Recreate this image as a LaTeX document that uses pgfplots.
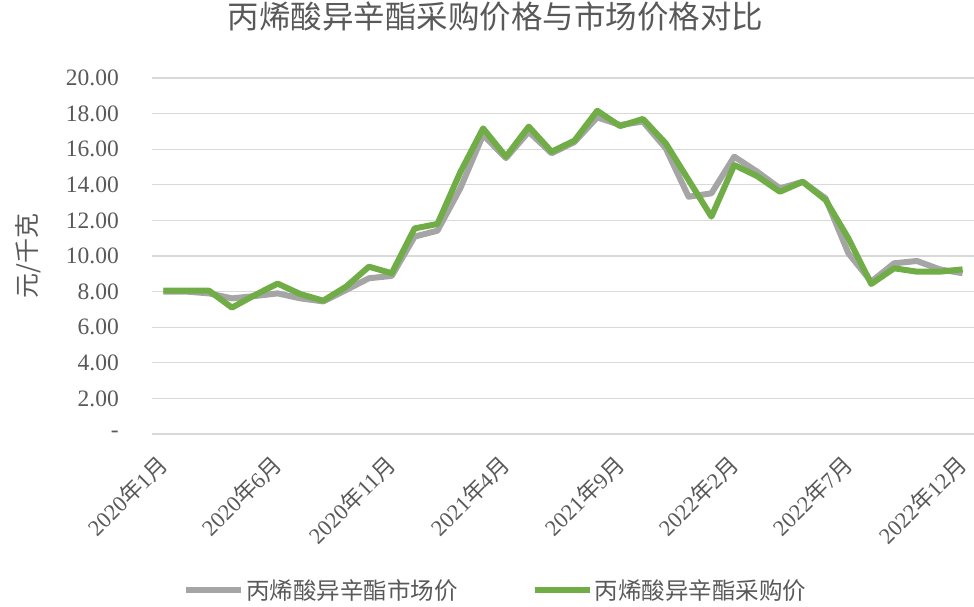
\documentclass[border=0pt]{standalone}
\usepackage{fontspec}
\setmainfont{Liberation Serif}
\newfontfamily\cjk{Noto Sans CJK SC}
\usepackage{pgfplots}
\pgfplotsset{compat=1.18}
\definecolor{txt}{HTML}{595959}
\definecolor{grid}{HTML}{D9D9D9}
\definecolor{mkt}{HTML}{A5A5A5}
\definecolor{buy}{HTML}{70AD47}
\newcommand{\ym}[2]{#1{\cjk 年}#2{\cjk 月}}
\begin{document}
\begin{tikzpicture}
\useasboundingbox (-152pt,-172pt) rectangle (822pt,434pt);
\begin{axis}[
  at={(0,0)}, anchor=south west,
  scale only axis, width=822pt, height=356pt,
  xmin=-0.5, xmax=35.5, ymin=0, ymax=20,
  axis line style={draw=none},
  tick style={draw=none},
  ymajorgrids, major grid style={draw=grid, line width=1.3pt},
  ytick={0,2,...,20},
  yticklabels={-\hspace{22pt},2.00,4.00,6.00,8.00,10.00,12.00,14.00,16.00,18.00,20.00},
  yticklabel style={font=\fontsize{23.5}{28}\selectfont, text=txt, inner sep=0pt, xshift=-33pt},
  xtick={0,5,...,35},
  xticklabels={\ym{2020}{1},\ym{2020}{6},\ym{2020}{11},\ym{2021}{4},\ym{2021}{9},\ym{2022}{2},\ym{2022}{7},\ym{2022}{12}},
  xticklabel style={font=\fontsize{22.5}{27}\selectfont, text=txt, yshift=-26pt, rotate=45, anchor=east, inner sep=0pt},
  ylabel={\cjk 元/千克},
  ylabel style={font=\fontsize{25}{30}\selectfont, text=txt, at={(axis description cs:-0.151,0.5)}, anchor=center},
  title={\cjk 丙烯酸异辛酯采购价格与市场价格对比},
  title style={font=\fontsize{31.5}{36}\selectfont, text=txt, at={(axis description cs:0.418,1.157)}, anchor=center},
  legend columns=2,
  legend style={draw=none, fill=none, at={(axis description cs:0.418,-0.438)}, anchor=center,
    font=\fontsize{23.5}{28}\selectfont, text=txt,
    /tikz/every even column/.append style={column sep=72pt}},
  legend image code/.code={\draw[#1] (-8pt,0pt) -- (47pt,0pt);},
]
\addplot[mkt, line width=6pt, line join=round] coordinates {
(0,8.0) (1,8.0) (2,7.9) (3,7.62) (4,7.75) (5,7.9) (6,7.62) (7,7.45) (8,8.09) (9,8.75)
(10,8.88) (11,11.09) (12,11.42) (13,13.8) (14,16.8) (15,15.5) (16,16.98) (17,15.77) (18,16.4) (19,17.79)
(20,17.36) (21,17.55) (22,16.05) (23,13.33) (24,13.52) (25,15.58) (26,14.74) (27,13.8) (28,14.17) (29,13.24)
(30,10.15) (31,8.56) (32,9.59) (33,9.72) (34,9.25) (35,9.03)};
\addlegendentry{\cjk 丙烯酸异辛酯市场价}
\addplot[buy, line width=6pt, line join=round] coordinates {
(0,8.05) (1,8.05) (2,8.05) (3,7.1) (4,7.8) (5,8.45) (6,7.86) (7,7.49) (8,8.28) (9,9.4)
(10,9.03) (11,11.55) (12,11.8) (13,14.7) (14,17.17) (15,15.58) (16,17.27) (17,15.86) (18,16.48) (19,18.16)
(20,17.3) (21,17.7) (22,16.33) (23,14.27) (24,12.21) (25,15.11) (26,14.49) (27,13.61) (28,14.17) (29,13.15)
(30,10.99) (31,8.43) (32,9.31) (33,9.12) (34,9.12) (35,9.25)};
\addlegendentry{\cjk 丙烯酸异辛酯采购价}
\end{axis}
\end{tikzpicture}
\end{document}
